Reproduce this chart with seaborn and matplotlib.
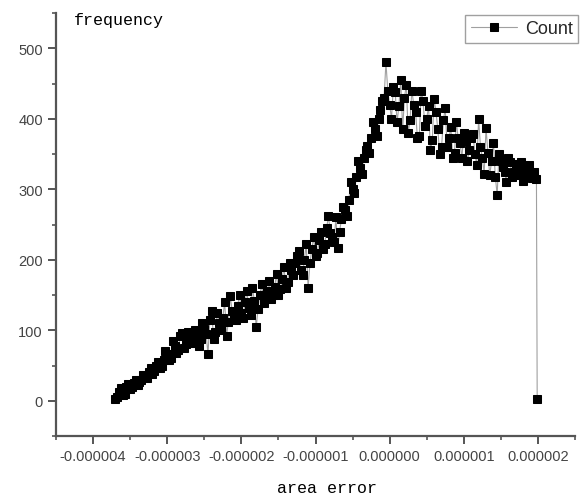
import matplotlib
matplotlib.use("Agg")
import matplotlib.pyplot as plt
import seaborn as sns
import pandas as pd
from matplotlib.ticker import MultipleLocator, FuncFormatter

# area error bins (in units of 1e-6) and counts
x_um = [-3.70, -3.65, -3.60, -3.55, -3.50, -3.45, -3.40, -3.35, -3.30, -3.25,
        -3.20, -3.15, -3.10, -3.05, -3.00, -2.95, -2.90, -2.85, -2.80, -2.75,
        -2.70, -2.65, -2.60, -2.55, -2.50, -2.45, -2.40, -2.35, -2.30, -2.25,
        -2.20, -2.15, -2.10, -2.05, -2.00, -1.95, -1.90, -1.85, -1.80, -1.75,
        -1.70, -1.65, -1.60, -1.55, -1.50, -1.45, -1.40, -1.35, -1.30, -1.25,
        -1.20, -1.15, -1.10, -1.05, -1.00, -0.95, -0.90, -0.85, -0.80, -0.75,
        -0.70, -0.65, -0.60, -0.55, -0.50, -0.45, -0.40, -0.35, -0.30, -0.25,
        -0.20, -0.15, -0.10, -0.05, 0.00, 0.05, 0.10, 0.15, 0.20, 0.25,
        0.30, 0.35, 0.40, 0.45, 0.50, 0.55, 0.60, 0.65, 0.70, 0.75,
        0.80, 0.85, 0.90, 0.95, 1.00, 1.05, 1.10, 1.15, 1.20, 1.25,
        1.30, 1.35, 1.40, 1.45, 1.50, 1.55, 1.60, 1.65, 1.70, 1.75,
        1.80, 1.85, 1.90, 1.95, 1.98, 1.99]
counts = [3, 12, 8, 20, 16, 25, 22, 30, 35, 41,
          38, 50, 46, 58, 66, 60, 78, 72, 96, 80,
          90, 84, 94, 88, 102, 66, 128, 98, 110, 118,
          92, 148, 120, 135, 125, 140, 132, 160, 104, 150,
          138, 155, 145, 162, 150, 172, 160, 196, 178, 205,
          185, 200, 160, 215, 205, 228, 215, 245, 238, 225,
          217, 258, 270, 285, 300, 318, 330, 345, 362, 372,
          385, 400, 425, 480, 420, 445, 395, 455, 430, 380,
          440, 410, 375, 425, 400, 355, 428, 385, 360, 415,
          372, 345, 395, 365, 380, 340, 372, 350, 400, 345,
          387, 320, 366, 292, 340, 325, 345, 318, 336, 328,
          312, 330, 318, 325, 314, 3]

# in-between bins
x2_um = [-3.675, -3.625, -3.575, -3.525, -3.475, -3.425, -3.375, -3.325, -3.275, -3.225,
         -3.175, -3.125, -3.075, -3.025, -2.975, -2.925, -2.875, -2.825, -2.775, -2.725,
         -2.675, -2.625, -2.575, -2.525, -2.475, -2.425, -2.375, -2.325, -2.275, -2.225,
         -2.175, -2.125, -2.075, -2.025, -1.975, -1.925, -1.875, -1.825, -1.775, -1.725,
         -1.675, -1.625, -1.575, -1.525, -1.475, -1.425, -1.375, -1.325, -1.275, -1.225,
         -1.175, -1.125, -1.075, -1.025, -0.975, -0.925, -0.875, -0.825, -0.775, -0.725,
         -0.675, -0.625, -0.575, -0.525, -0.475, -0.425, -0.375, -0.325, -0.275, -0.225,
         -0.175, -0.125, -0.075, -0.025, 0.025, 0.075, 0.125, 0.175, 0.225, 0.275,
         0.325, 0.375, 0.425, 0.475, 0.525, 0.575, 0.625, 0.675, 0.725, 0.775,
         0.825, 0.875, 0.925, 0.975, 1.025, 1.075, 1.125, 1.175, 1.225, 1.275,
         1.325, 1.375, 1.425, 1.475, 1.525, 1.575, 1.625, 1.675, 1.725, 1.775,
         1.825, 1.875, 1.925]
counts2 = [5, 18, 10, 24, 20, 30, 27, 36, 32, 46,
           42, 55, 50, 70, 58, 85, 68, 92, 75, 98,
           82, 100, 78, 110, 95, 115, 88, 125, 100, 140,
           112, 128, 115, 150, 118, 155, 122, 142, 130, 165,
           148, 170, 150, 180, 158, 190, 168, 185, 195, 212,
           178, 222, 195, 232, 210, 240, 222, 262, 232, 260,
           240, 275, 262, 310, 295, 340, 322, 355, 352, 395,
           375, 412, 430, 440, 400, 438, 418, 385, 448, 398,
           420, 372, 440, 390, 418, 370, 410, 350, 398, 360,
           388, 352, 372, 345, 368, 355, 378, 335, 360, 322,
           352, 340, 318, 350, 332, 310, 338, 325, 320, 338,
           322, 335, 316]

df = pd.DataFrame({"area_error": [v * 1e-6 for v in x_um + x2_um],
                   "Count": counts + counts2})
df = df.sort_values("area_error").reset_index(drop=True)

sns.set_style("ticks")
plt.rcParams["font.family"] = ["Liberation Sans", "DejaVu Sans"]

fig = plt.figure(figsize=(5.81, 5.02), dpi=100)
ax = fig.add_axes([56 / 581, 65 / 502, 519 / 581, 423 / 502])

sns.lineplot(data=df, x="area_error", y="Count", ax=ax, sort=False, estimator=None,
             color="#a0a0a0", linewidth=0.8, marker="s", markersize=6,
             markerfacecolor="black", markeredgecolor="black", label="Count")

ax.set_xlim(-4.5e-6, 2.5e-6)
ax.set_ylim(-50, 550)
ax.xaxis.set_major_locator(MultipleLocator(1e-6))
ax.xaxis.set_minor_locator(MultipleLocator(0.5e-6))
ax.yaxis.set_major_locator(MultipleLocator(100))
ax.yaxis.set_minor_locator(MultipleLocator(50))
ax.xaxis.set_major_formatter(FuncFormatter(lambda v, p: f"{int(round(v * 1e6)) / 1e6:.6f}"))

for s in ["top", "right"]:
    ax.spines[s].set_visible(False)
for s in ["left", "bottom"]:
    ax.spines[s].set_color("#555555")
    ax.spines[s].set_linewidth(1.6)
ax.tick_params(which="major", length=6, width=1.4, color="#555555",
               labelsize=10.5, labelcolor="#444444")
ax.tick_params(which="minor", length=3, width=1.2, color="#555555")
ax.set_xlabel("")
ax.set_ylabel("")

fig.text(74 / 581, 1 - 20 / 502, "frequency", family="Liberation Mono",
         fontsize=12, ha="left", va="center", color="black")
fig.text(327 / 581, 1 - 489 / 502, "area error", family="Liberation Mono",
         fontsize=12, ha="center", va="center", color="black")

ax.legend(loc="upper right", bbox_to_anchor=(578 / 581, 1 - 16 / 502),
          bbox_transform=fig.transFigure, frameon=True, fancybox=False,
          edgecolor="#888888", fontsize=13, handlelength=2.6,
          borderpad=0.3, handletextpad=0.4, borderaxespad=0)

fig.savefig("out.png", dpi=100)
